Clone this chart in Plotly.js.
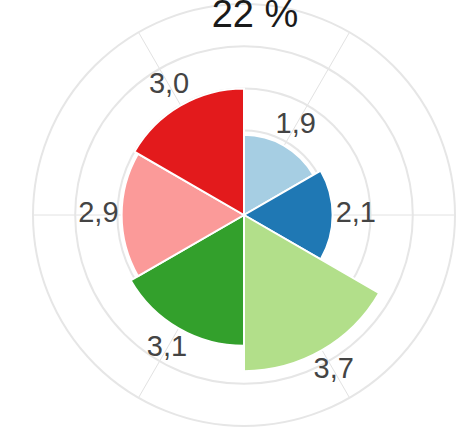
<!DOCTYPE html>
<html>
<head>
<meta charset="utf-8">
<script src="https://cdn.plot.ly/plotly-3.0.1.min.js"></script>
<style>
html,body{margin:0;padding:0;background:#fff;}
#chart{width:456px;height:433px;}
</style>
</head>
<body>
<div id="chart"></div>
<script>
// Data
var categories = [30, 90, 150, 210, 270, 330];
var values = [1.9, 2.1, 3.7, 3.1, 2.9, 3.0];
var colors = ['#a6cee3', '#1f78b4', '#b2df8a', '#33a02c', '#fb9a99', '#e31a1c'];
var titleText = '22 %';
var labelOffset = 0.55;

var labels = values.map(function(v){ return v.toFixed(1).replace('.', ','); });
var labelR = values.map(function(v){ return v + labelOffset; });

var bars = {
  type: 'barpolar',
  r: values,
  theta: categories,
  width: categories.map(function(){ return 60; }),
  marker: {color: colors, line: {color: '#ffffff', width: 2}},
  hoverinfo: 'none',
  showlegend: false
};

var texts = {
  type: 'scatterpolar',
  mode: 'text',
  r: labelR,
  theta: categories,
  text: labels,
  textposition: 'middle center',
  textfont: {family: 'Liberation Sans, Arial, sans-serif', size: 29, color: '#444444'},
  hoverinfo: 'none',
  showlegend: false,
  cliponaxis: false
};

var layout = {
  width: 456,
  height: 433,
  margin: {l: 0, r: 0, t: 0, b: 0},
  paper_bgcolor: '#ffffff',
  showlegend: false,
  title: {
    text: titleText,
    font: {family: 'Liberation Sans, Arial, sans-serif', size: 38, color: '#1a1a1a'},
    x: 255/456, xanchor: 'center',
    xref: 'paper',
    yref: 'container', y: 1 + 28/433, yanchor: 'top'
  },
  polar: {
    domain: {x: [33/456, 455/456], y: [1 - 426/433, 1 - 4/433]},
    bgcolor: 'rgba(0,0,0,0)',
    radialaxis: {
      range: [0, 5],
      dtick: 1,
      showticklabels: false,
      ticks: '',
      showline: false,
      gridcolor: '#e6e6e6',
      gridwidth: 2
    },
    angularaxis: {
      direction: 'clockwise',
      rotation: 90,
      tickmode: 'array',
      tickvals: categories,
      showticklabels: false,
      ticks: '',
      showline: true,
      linecolor: '#e6e6e6',
      linewidth: 2,
      gridcolor: '#e2e2e2',
      gridwidth: 1
    }
  }
};

Plotly.newPlot('chart', [bars, texts], layout, {displayModeBar: false, staticPlot: true});
</script>
</body>
</html>
